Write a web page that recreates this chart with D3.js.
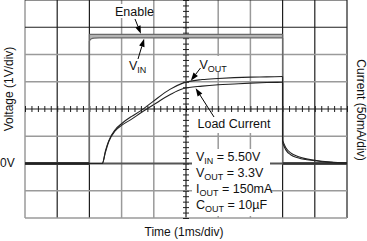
<!DOCTYPE html>
<html><head><meta charset="utf-8">
<script src="https://cdn.jsdelivr.net/npm/d3@7"></script>
<style>
body{margin:0;background:#fff}
svg{display:block;font-family:"Liberation Sans",Arial,Helvetica,sans-serif}
</style>
</head><body>
<svg id="chart" width="367" height="241"></svg>
<script>
// ---------- data (time in ms, voltage in V, current in mA) ----------
const enableT = [0, 2, 2, 8, 8, 10];
const enableV = [0, 0, 4.74, 4.74, 0, 0];
const vinT = [0, 2, 2, 2.05, 2.15, 2.3, 8, 8, 10];
const vinV = [0, 0, 4.5, 4.57, 4.6, 4.61, 4.61, 0, 0];
const voutT = [0, 2.4, 2.5, 2.6, 2.8, 3.0, 3.3, 3.6, 4.0, 4.5, 4.9, 5.5, 6.0, 6.5, 7.0, 7.5, 8.0, 8.0, 8.1, 8.25, 8.5, 9.0, 9.5, 10];
const voutV = [0, 0, 0.47, 0.83, 1.24, 1.46, 1.72, 1.94, 2.30, 2.72, 2.95, 3.08, 3.12, 3.15, 3.17, 3.18, 3.19, 0.85, 0.58, 0.39, 0.25, 0.12, 0.05, 0.02];
const loadT = [0, 2.4, 2.5, 2.6, 2.8, 3.0, 3.3, 3.6, 4.0, 4.5, 4.9, 5.5, 6.0, 6.5, 7.0, 7.5, 8.0, 8.0, 8.1, 8.25, 8.5, 9.0, 9.5, 10];
const loadI = [0, 0, 21, 40, 60, 70, 81, 93, 108, 126, 137, 142, 144.5, 146, 147.5, 148.5, 149, 38, 25, 16, 10, 5, 2, 1];

const timeDivs = d3.range(0, 11);          // 1 ms/div
const voltDivs = d3.range(-2, 7);          // 1 V/div
const xLabel = "Time (1ms/div)";
const yLabel = "Voltage (1V/div)";
const y2Label = "Current (50mA/div)";
const zeroLabel = "0V";
const conditions = [
  ["V", "IN", " = 5.50V"],
  ["V", "OUT", " = 3.3V"],
  ["I", "OUT", " = 150mA"],
  ["C", "OUT", " = 10\u00b5F"]
];

// ---------- layout ----------
const svg = d3.select("#chart");
const x = d3.scaleLinear().domain([0, 10]).range([25, 347]);
const yV = d3.scaleLinear().domain([-2, 6]).range([218, 0]);
const yI = d3.scaleLinear().domain([-100, 300]).range([218, 0]);

const DARK = "#1e1e1e", GRAY = "#9a9a9a";
const darkT = new Set([1, 2, 5, 8, 9, 10]);
const darkV = new Set([6, 5, 2]);

// grid
const grid = svg.append("g");
grid.selectAll("line.v").data(timeDivs).join("line")
  .attr("x1", d => x(d)).attr("x2", d => x(d))
  .attr("y1", yV(6)).attr("y2", yV(-2))
  .attr("stroke", d => darkT.has(d) ? DARK : GRAY)
  .attr("stroke-width", d => darkT.has(d) ? 1.2 : 1.5);
grid.selectAll("line.h").data(voltDivs).join("line")
  .attr("y1", d => yV(d)).attr("y2", d => yV(d))
  .attr("x1", x(0)).attr("x2", x(10))
  .attr("stroke", d => d === 0 ? "#555" : (darkV.has(d) ? DARK : GRAY))
  .attr("stroke-width", d => d === 0 ? 2 : (darkV.has(d) ? 1.2 : 1.5));

// centre axes with minor ticks
const xAxis = d3.axisBottom(x).tickValues(d3.range(0, 10.001, 0.2)).tickSize(6).tickFormat("");
const gx = svg.append("g").attr("transform", `translate(0,${yV(2) - 3})`).call(xAxis);
gx.select(".domain").remove();
gx.selectAll("line").attr("stroke", DARK).attr("stroke-width", 1);
const yAxis = d3.axisLeft(yV).tickValues(d3.range(-2, 6.001, 0.2)).tickSize(6).tickFormat("");
const gy = svg.append("g").attr("transform", `translate(${x(5) + 3},0)`).call(yAxis);
gy.select(".domain").remove();
gy.selectAll("line").attr("stroke", DARK).attr("stroke-width", 1);

// white label backgrounds (cover the grid)
const boxes = svg.append("g").attr("fill", "#fff");
boxes.append("rect").attr("x", 113).attr("y", 4).attr("width", 40).attr("height", 14);
boxes.append("rect").attr("x", 197).attr("y", 56).attr("width", 34).attr("height", 16);
boxes.append("rect").attr("x", 195).attr("y", 112).attr("width", 77).attr("height", 21);
boxes.append("rect").attr("x", 192).attr("y", 149).attr("width", 78).attr("height", 67);

// ---------- traces ----------
function interp(ts, vs, t) {
  for (let i = 1; i < ts.length; i++) {
    if (t <= ts[i] && ts[i] > ts[i - 1]) {
      const f = (t - ts[i - 1]) / (ts[i] - ts[i - 1]);
      return vs[i - 1] + f * (vs[i] - vs[i - 1]);
    }
  }
  return vs[vs.length - 1];
}
function drawTrace(ts, vs, ys, stroke, width) {
  const pts = ts.map((t, i) => [x(t), ys(vs[i])]);
  const runs = [[pts[0]]];
  for (let i = 1; i < pts.length; i++) {
    if (ts[i] === ts[i - 1]) runs.push([pts[i]]);
    else runs[runs.length - 1].push(pts[i]);
  }
  const smooth = d3.line().curve(d3.curveMonotoneX);
  const straight = d3.line();
  const g = svg.append("g").attr("fill", "none").attr("stroke", stroke)
    .attr("stroke-width", width).attr("stroke-linejoin", "round");
  runs.forEach((r, k) => {
    if (r.length > 1) g.append("path").attr("d", smooth(r));
    if (k > 0) {
      const prev = runs[k - 1];
      g.append("path").attr("d", straight([prev[prev.length - 1], r[0]]));
    }
  });
}

// band between Enable and VIN
const bandIdx = vinT.map((t, i) => i).filter(i => i >= 2 && i <= 6);
svg.append("path")
  .attr("d", d3.area()
    .x(i => x(vinT[i]))
    .y0(i => yV(vinV[i]))
    .y1(i => yV(interp(enableT, enableV, Math.min(vinT[i] + 1e-6, 7.999))))(bandIdx))
  .attr("fill", "#b4b4b4");

drawTrace(enableT, enableV, yV, "#6a6a6a", 1.3);
drawTrace(vinT, vinV, yV, "#6a6a6a", 1.3);
// 0V baseline overlap before enable
svg.append("line").attr("x1", x(0)).attr("x2", x(2)).attr("y1", yV(0)).attr("y2", yV(0))
  .attr("stroke", "#333").attr("stroke-width", 3);
svg.append("line").attr("x1", x(8)).attr("x2", x(10)).attr("y1", yV(0)).attr("y2", yV(0))
  .attr("stroke", "#333").attr("stroke-width", 2.5);
drawTrace(voutT, voutV, yV, "#222", 1.1);
drawTrace(loadT, loadI, yI, "#222", 1.1);

// ---------- annotations ----------
function arrow(x1, y1, x2, y2) {
  const ang = Math.atan2(y2 - y1, x2 - x1), L = 8, W = 2.8;
  const bx = x2 - L * Math.cos(ang), by = y2 - L * Math.sin(ang);
  svg.append("line").attr("x1", x1).attr("y1", y1).attr("x2", bx).attr("y2", by)
    .attr("stroke", "#000").attr("stroke-width", 1);
  svg.append("path").attr("d", d3.line()([
    [x2, y2],
    [bx + W * Math.sin(ang), by - W * Math.cos(ang)],
    [bx - W * Math.sin(ang), by + W * Math.cos(ang)]
  ]) + "Z").attr("fill", "#000");
}
const tE = 3.6, tI = 3.7, tO = 5.15, tL = 5.3;
arrow(135, 19, x(tE), yV(interp(enableT, enableV, tE)) - 0.5);
arrow(138, 59, x(tI), yV(interp(vinT, vinV, tI)) + 0.8);
arrow(200.5, 68, x(tO), yV(interp(voutT, voutV, tO)) - 1);
arrow(214, 117, x(tL), yI(interp(loadT, loadI, tL)) + 1.2);

const txt = svg.append("g").attr("fill", "#111").attr("font-size", 12.5);
txt.append("text").attr("x", 115).attr("y", 15.5).text("Enable");
function subText(px, py, parts, size, subSize) {
  const t = txt.append("text").attr("x", px).attr("y", py).attr("font-size", size);
  t.append("tspan").text(parts[0]);
  t.append("tspan").attr("font-size", subSize).attr("dy", 3).text(parts[1]);
  if (parts[2]) t.append("tspan").attr("dy", -3).text(parts[2]);
}
subText(129, 70, ["V", "IN"], 12.5, 9);
subText(199.5, 68.5, ["V", "OUT"], 12.5, 9);
txt.append("text").attr("x", 197.5).attr("y", 127.5).text("Load Current");
conditions.forEach((c, i) => subText(196, 161 + i * 16, c, 12.5, 9));

txt.append("text").attr("x", 0).attr("y", 167).attr("font-size", 12).text(zeroLabel);
txt.append("text").attr("x", 184).attr("y", 236).attr("text-anchor", "middle").attr("font-size", 12).text(xLabel);
txt.append("text").attr("transform", "translate(13,89) rotate(-90)").attr("text-anchor", "middle")
  .attr("font-size", 12).text(yLabel);
txt.append("text").attr("transform", "translate(357,110) rotate(90)").attr("text-anchor", "middle")
  .attr("font-size", 12).text(y2Label);
</script>
</body></html>
